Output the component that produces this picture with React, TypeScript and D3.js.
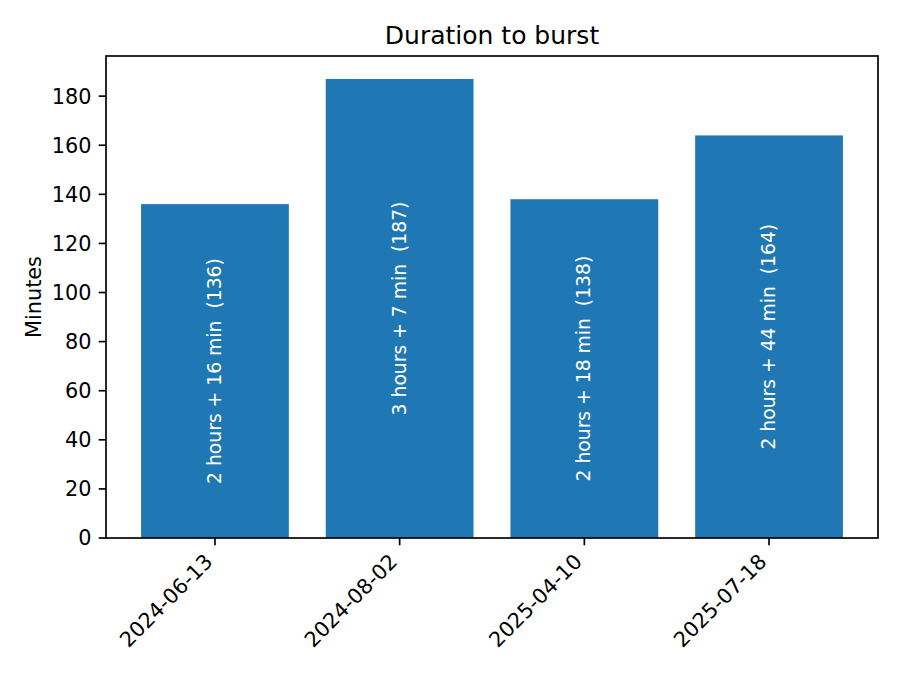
import { useEffect } from 'react';
import * as d3 from 'd3';

// Bar chart: minutes until burst for each date
const dates = ['2024-06-13', '2024-08-02', '2025-04-10', '2025-07-18'];
const minutes = [136, 187, 138, 164];
const yTicks = [0, 20, 40, 60, 80, 100, 120, 140, 160, 180];

const width = 900;
const height = 675;
const margin = { left: 106, right: 22, top: 56, bottom: 137 };
const font = 'DejaVu Sans, sans-serif';
const barColor = '#1f77b4';

function formatDuration(total: number) {
  const h = Math.floor(total / 60);
  const m = total % 60;
  return `${h} hours + ${m} min  (${total})`;
}

export default function App() {
  useEffect(() => {
    document.body.style.margin = '0';
  }, []);

  const x0 = margin.left;
  const x1 = width - margin.right;
  const y0 = height - margin.bottom;
  const y1 = margin.top;

  const x = d3.scaleBand<string>()
    .domain(dates)
    .range([x0, x1])
    .paddingInner(0.2)
    .paddingOuter(0.19);

  const y = d3.scaleLinear()
    .domain([0, (d3.max(minutes) ?? 0) * 1.05])
    .range([y0, y1]);

  const tickLen = 7.3;
  const lw = 1.67;

  return (
    <svg width={width} height={height} style={{ display: 'block', background: '#fff' }}>
      {/* bars */}
      {dates.map((d, i) => (
        <rect
          key={d}
          x={x(d)}
          y={y(minutes[i])}
          width={x.bandwidth()}
          height={y(0) - y(minutes[i])}
          fill={barColor}
        />
      ))}

      {/* labels inside bars */}
      {dates.map((d, i) => {
        const cx = (x(d) ?? 0) + x.bandwidth() / 2;
        const cy = y(minutes[i] / 2);
        return (
          <text
            key={d}
            transform={`translate(${cx - 0.5},${cy}) rotate(-90)`}
            textAnchor="middle"
            dominantBaseline="central"
            fill="#fff"
            fontFamily={font}
            fontSize={18.75}
            style={{ whiteSpace: 'pre' }}
          >
            {formatDuration(minutes[i])}
          </text>
        );
      })}

      {/* spines */}
      <rect x={x0} y={y1} width={x1 - x0} height={y0 - y1} fill="none" stroke="#000" strokeWidth={lw} />

      {/* y axis */}
      {yTicks.map(t => (
        <g key={t}>
          <line x1={x0 - tickLen} x2={x0} y1={y(t)} y2={y(t)} stroke="#000" strokeWidth={lw} />
          <text
            x={x0 - tickLen - 7.3}
            y={y(t)}
            dy="0.36em"
            textAnchor="end"
            fontFamily={font}
            fontSize={20.8}
            fill="#000"
          >
            {t}
          </text>
        </g>
      ))}

      {/* x axis */}
      {dates.map(d => {
        const cx = (x(d) ?? 0) + x.bandwidth() / 2;
        return (
          <g key={d}>
            <line x1={cx} x2={cx} y1={y0} y2={y0 + tickLen} stroke="#000" strokeWidth={lw} />
            <text
              transform={`translate(${cx - 6},${y0 + 20}) rotate(-45)`}
              textAnchor="end"
              dominantBaseline="central"
              fontFamily={font}
              fontSize={20.8}
              fill="#000"
            >
              {d}
            </text>
          </g>
        );
      })}

      {/* axis label */}
      <text
        transform={`translate(41,${(y0 + y1) / 2}) rotate(-90)`}
        textAnchor="middle"
        fontFamily={font}
        fontSize={20.8}
        fill="#000"
      >
        Minutes
      </text>

      {/* title */}
      <text
        x={(x0 + x1) / 2}
        y={y1 - 12.5}
        textAnchor="middle"
        fontFamily={font}
        fontSize={25}
        fill="#000"
      >
        Duration to burst
      </text>
    </svg>
  );
}
